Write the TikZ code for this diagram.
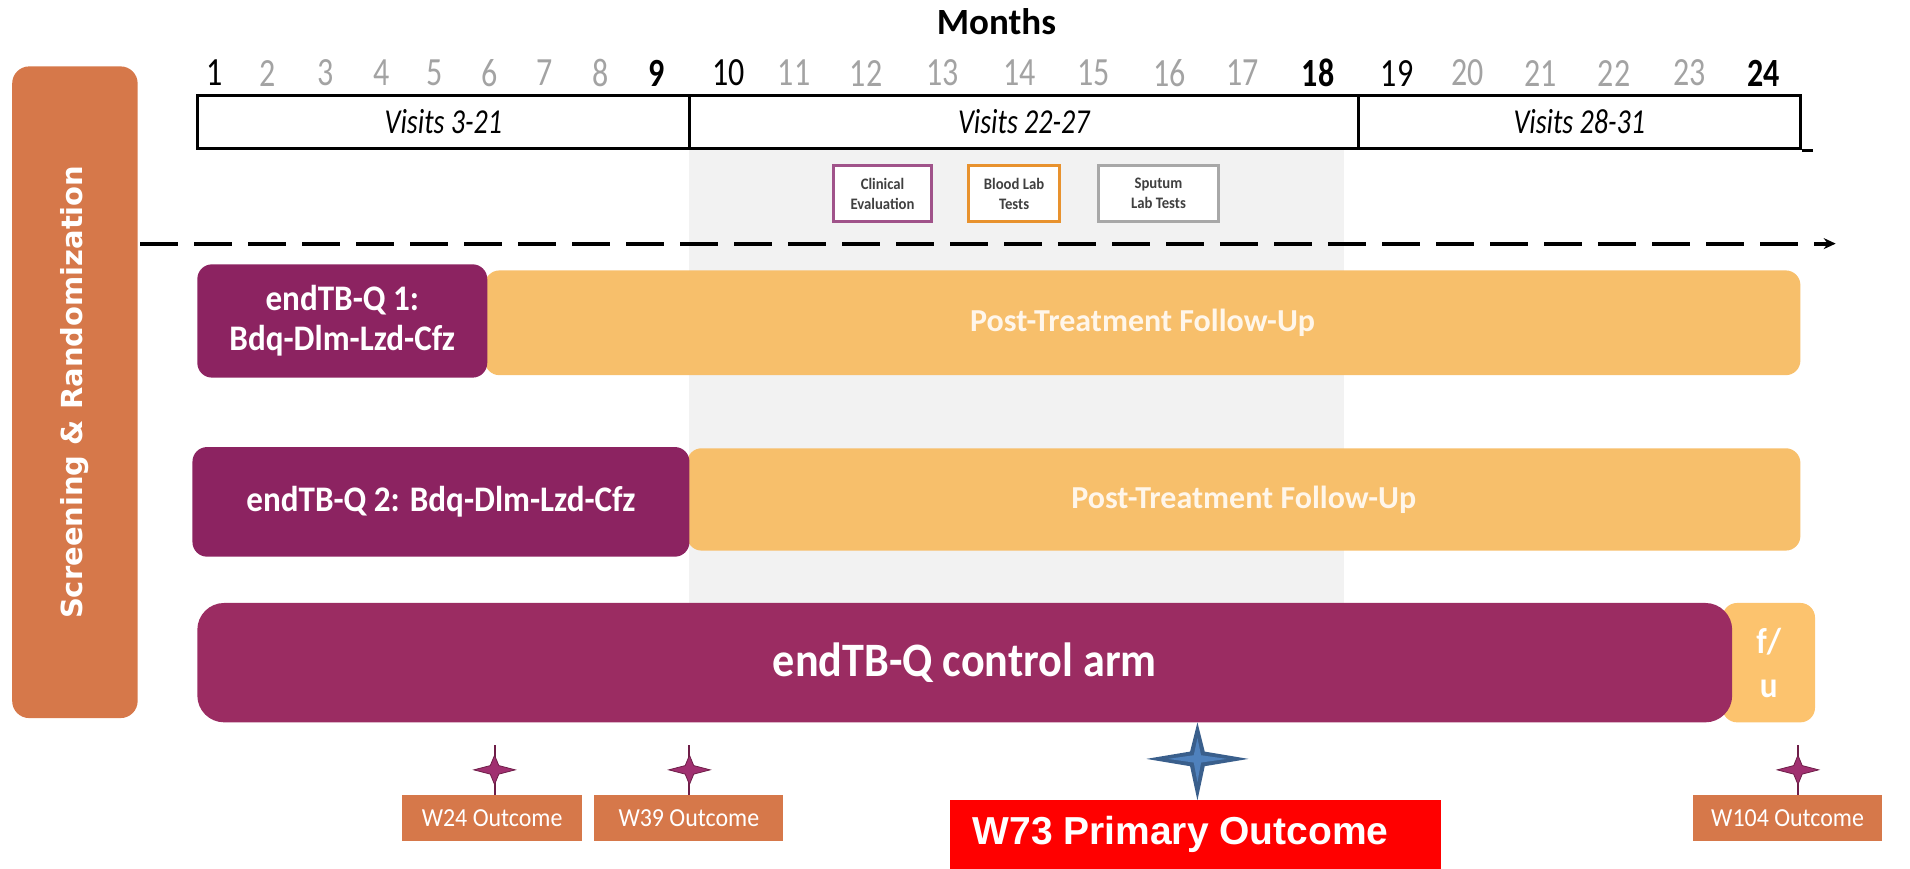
\documentclass[tikz,border=0pt]{standalone}
\usepackage{fontspec}
\setmainfont{Carlito}
\newfontfamily\dvs{DejaVu Sans}
\newfontfamily\arl{Liberation Sans}
\newfontfamily\narrowf[FakeStretch=0.8]{Carlito}
\newfontfamily\semif[FakeStretch=0.92]{Carlito}
\usetikzlibrary{arrows.meta}
\definecolor{scr}{HTML}{D6784A}
\definecolor{armp}{HTML}{8C2361}
\definecolor{ctrlp}{HTML}{9B2C62}
\definecolor{fu}{HTML}{F7BF6B}
\definecolor{fuu}{HTML}{FCC36E}
\definecolor{futext}{HTML}{FFF6EA}
\definecolor{shadec}{HTML}{F2F2F2}
\definecolor{digg}{HTML}{A3A3A3}
\definecolor{clinb}{HTML}{A0538A}
\definecolor{bloodb}{HTML}{E8922E}
\definecolor{sputb}{HTML}{A8A8A8}
\definecolor{starp}{HTML}{A03070}
\definecolor{starpd}{HTML}{6E1E48}
\definecolor{stard}{HTML}{3A5F8C}
\definecolor{starl}{HTML}{4F81BD}
\definecolor{outc}{HTML}{D6784A}
\def\pxu{1.218pt}
\newcommand\fsz[2]{\fontsize{#1}{#2}\selectfont}
\tikzset{
  box/.style={rectangle, inner sep=0pt, align=center},
  armbox/.style={box, fill=armp, rounded corners=12*\pxu, text=white, font=\semif\fsz{36}{40}\bfseries},
  fubox/.style={box, fill=fu, rounded corners=12*\pxu, text=futext, font=\fsz{32}{38}\bfseries},
  vis/.style={box, draw=black, line width=3pt, font=\narrowf\fsz{35}{38}\itshape, minimum height=44*\pxu},
  leg/.style={box, fill=white, line width=3pt, font=\semif\fsz{16}{20}\bfseries, text=black!75, minimum height=46*\pxu},
  outbox/.style={box, fill=outc, text=white, font=\semif\fsz{26}{28}, minimum height=37*\pxu},
  dig/.style={font=\narrowf\fsz{40}{44}, text=digg, inner sep=0pt},
  digk/.style={dig, text=black},
  digb/.style={dig, text=black, font=\narrowf\fsz{40}{44}\bfseries},
  stem/.style={draw=starpd, line width=2pt},
  pstar/.pic={
    \fill[starp, draw=starpd, line width=0.8pt] (0,-12) -- (3.5,-3.5) -- (17,0) -- (3.5,3.5) -- (0,12) -- (-3.5,3.5) -- (-17,0) -- (-3.5,-3.5) -- cycle;
  },
  bstar/.pic={
    \fill[stard] (0,-30) -- (6,-6) -- (42,0) -- (6,6) -- (0,34) -- (-6,6) -- (-42,0) -- (-6,-6) -- cycle;
    \fill[starl] (0,-17) -- (3,-3) -- (24,0) -- (3,3) -- (0,19) -- (-3,3) -- (-24,0) -- (-3,-3) -- cycle;
  }
}
\begin{document}
\begin{tikzpicture}[x=1.218pt, y=-1.218pt]
\useasboundingbox (0,0) rectangle (1568,713);
% shaded band
\node[box, fill=shadec, minimum width=537*\pxu, minimum height=373*\pxu] (gbg) at (834.5,308.5) {};
% title and months
\node[font=\fsz{37}{40}\bfseries, inner sep=0pt] (months) at (818,18) {Months};
\node[digk] (m1) at (176,60) {1};
\node[dig] (m2) at (220,60) {2};
\node[dig] (m3) at (267,60) {3};
\node[dig] (m4) at (313,60) {4};
\node[dig] (m5) at (357,60) {5};
\node[dig] (m6) at (402,60) {6};
\node[dig] (m7) at (447,60) {7};
\node[dig] (m8) at (493,60) {8};
\node[digb] (m9) at (539,60) {9};
\node[digk] (m10) at (598,60) {10};
\node[dig] (m11) at (652,60) {11};
\node[dig] (m12) at (711,60) {12};
\node[dig] (m13) at (774,60) {13};
\node[dig] (m14) at (837,60) {14};
\node[dig] (m15) at (898,60) {15};
\node[dig] (m16) at (960,60) {16};
\node[dig] (m17) at (1020,60) {17};
\node[digb] (m18) at (1082,60) {18};
\node[digk] (m19) at (1147,60) {19};
\node[dig] (m20) at (1205,60) {20};
\node[dig] (m21) at (1265,60) {21};
\node[dig] (m22) at (1325,60) {22};
\node[dig] (m23) at (1387,60) {23};
\node[digb] (m24) at (1448,60) {24};
% visits table
\node[vis, minimum width=404*\pxu] (v1) at (364,100) {Visits 3-21};
\node[vis, minimum width=549*\pxu] (v2) at (840.5,100) {Visits 22-27};
\node[vis, minimum width=363*\pxu] (v3) at (1296.5,100) {Visits 28-31};
\draw[line width=3pt] (v3.south east) -- ++(9,0);
% legend
\node[leg, draw=clinb, minimum width=81*\pxu] (clin) at (724.5,159) {Clinical\\Evaluation};
\node[leg, draw=bloodb, minimum width=75*\pxu] (blood) at (832.5,159) {Blood Lab\\Tests};
\node[leg, draw=sputb, minimum width=98*\pxu] (sput) at (951,159) {Sputum\\Lab Tests};
% timeline dashed arrow
\coordinate (ds) at (115,200);
\coordinate (de) at (1507,200);
\draw[line width=4pt, dash pattern=on 38pt off 16pt, -{Stealth[length=12pt,width=11pt]}] (ds) -- (de);
% screening
\node[box, fill=scr, rounded corners=14*\pxu, rotate=90, minimum width=535*\pxu, minimum height=103*\pxu, text=white, font=\dvs\fsz{29}{32}\bfseries] (scr) at (61.5,322) {Screening \& Randomization};
% arm 1
\node[fubox, minimum width=1080*\pxu, minimum height=86*\pxu] (fu1) at (938,265) {Post-Treatment Follow-Up};
\node[armbox, minimum width=238*\pxu, minimum height=93*\pxu] (arm1) at (281,263.5) {endTB-Q 1:\\Bdq-Dlm-Lzd-Cfz};
% arm 2
\node[fubox, minimum width=914*\pxu, minimum height=84*\pxu] (fu2) at (1021,410) {Post-Treatment Follow-Up};
\node[armbox, minimum width=408*\pxu, minimum height=90*\pxu] (arm2) at (362,412) {endTB-Q 2: Bdq-Dlm-Lzd-Cfz};
% control arm
\node[box, fill=fuu, rounded corners=12*\pxu, text=white, font=\semif\fsz{36}{44}\bfseries, minimum width=76*\pxu, minimum height=98*\pxu] (fu3) at (1452,544) {f/\\u};
\node[box, fill=ctrlp, rounded corners=22*\pxu, text=white, font=\semif\fsz{48}{50}\bfseries, minimum width=1260*\pxu, minimum height=98*\pxu] (ctrl) at (792,544) {endTB-Q control arm};
% outcomes
\node[outbox, minimum width=148*\pxu] (w24) at (404,671.5) {W24 Outcome};
\node[outbox, minimum width=155*\pxu] (w39) at (565.5,671.5) {W39 Outcome};
\node[outbox, minimum width=155*\pxu] (w104) at (1467.5,671.5) {W104 Outcome};
\node[box, fill=red, text=white, font=\arl\fsz{39}{42}\bfseries, minimum width=403*\pxu, minimum height=56*\pxu] (w73) at (981.5,685) {W73 Primary Outcome\hspace{30pt}};
% stars
\coordinate (s24) at (406,632);
\coordinate (s39) at (566,632);
\coordinate (s104) at (1476,632);
\draw[stem] ([yshift=20*\pxu]s24) -- (s24 |- w24.north);
\draw[stem] ([yshift=20*\pxu]s39) -- (s39 |- w39.north);
\draw[stem] ([yshift=20*\pxu]s104) -- (s104 |- w104.north);
\pic at (s24) {pstar};
\pic at (s39) {pstar};
\pic at (s104) {pstar};
\coordinate (s73) at (983,623);
\pic at (s73) {bstar};
\end{tikzpicture}
\end{document}
